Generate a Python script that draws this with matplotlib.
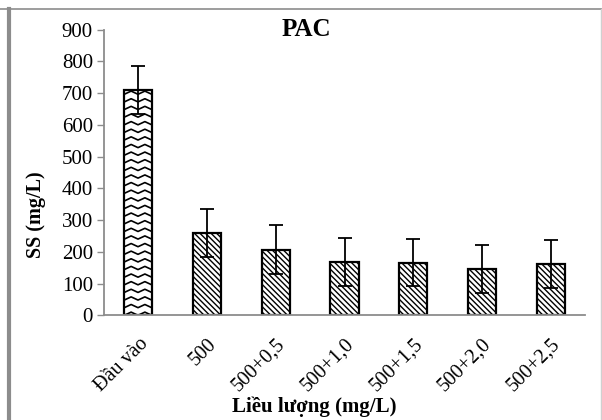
import numpy as np
import matplotlib
matplotlib.use('Agg')
import matplotlib.pyplot as plt
import matplotlib.transforms as mtransforms
from matplotlib.lines import Line2D

plt.rcParams['font.family'] = ['Liberation Serif', 'DejaVu Serif']
plt.rcParams['hatch.linewidth'] = 1.0

# ----- data -----
categories = ['Đầu vào', '500', '500+0,5', '500+1,0', '500+1,5', '500+2,0', '500+2,5']
ss_values = [709, 260, 206, 168, 166, 145, 161]
ss_err = [76, 76, 77, 76, 75, 76, 75]

fig = plt.figure(figsize=(6.02, 4.20), dpi=100)
ax = fig.add_axes([104 / 602, 1 - 315.3 / 420, 481 / 602, (315.3 - 29.5) / 420])

x = np.arange(len(categories))
width = 0.41
bars = ax.bar(x, ss_values, width=width, color='white', edgecolor='black',
              linewidth=1.6, hatch='\\\\\\\\\\\\', zorder=2)
bars[0].set_hatch('')

# zigzag fill for the first bar (Excel-like pattern), clipped to the bar
b0 = bars[0]
x0, w0, h0 = b0.get_x(), b0.get_width(), b0.get_height()
period = 0.2
amp = 10
step = 24
xs = np.arange(x0 - period, x0 + w0 + period, period / 2)
for k in range(int(h0 / step) + 2):
    y_base = k * step
    ys = [y_base + (amp if j % 2 else 0) for j in range(len(xs))]
    ln = Line2D(xs, ys, color='black', linewidth=1.2, zorder=2.5)
    ax.add_line(ln)
    ln.set_clip_path(b0)

ax.errorbar(x, ss_values, yerr=ss_err, fmt='none', ecolor='black',
            elinewidth=1.3, capsize=5, capthick=1.3, zorder=3)

ax.set_xlim(-0.5, len(categories) - 0.5)
ax.set_ylim(0, 900)
ax.set_yticks(range(0, 901, 100))
ax.set_xticks(x)
ax.set_xticklabels(categories, rotation=45, ha='right', rotation_mode='anchor')
shift = mtransforms.ScaledTranslation(-4 / 100, 0, fig.dpi_scale_trans)
for lab in ax.get_xticklabels():
    lab.set_transform(lab.get_transform() + shift)

for s in ['top', 'right']:
    ax.spines[s].set_visible(False)
for s in ['left', 'bottom']:
    ax.spines[s].set_color('#8c8c8c')
    ax.spines[s].set_linewidth(1.3)
ax.tick_params(axis='y', length=5, color='#8c8c8c', width=1.0, labelsize=15, pad=3)
ax.tick_params(axis='x', length=0, labelsize=14.5, pad=14)

fig.text(306 / 602, 1 - 30 / 420, 'PAC', ha='center', va='center',
         fontsize=18, fontweight='bold')
fig.text(36 / 602, 1 - 215 / 420, 'SS (mg/L)', ha='center', va='center',
         rotation=90, fontsize=14.5, fontweight='bold')
fig.text(314 / 602, 1 - 407 / 420, 'Liều lượng (mg/L)', ha='center', va='center',
         fontsize=15, fontweight='bold')

# outer frame
fig.add_artist(Line2D([0, 1], [1 - 9 / 420, 1 - 9 / 420], color='#8c8c8c', linewidth=1.2))
fig.add_artist(Line2D([9 / 602, 9 / 602], [0, 1 - 9 / 420], color='#8c8c8c', linewidth=3))
fig.add_artist(Line2D([601 / 602, 601 / 602], [0, 1 - 9 / 420], color='#d0d0d0', linewidth=1))

fig.savefig('out.png', dpi=100)
